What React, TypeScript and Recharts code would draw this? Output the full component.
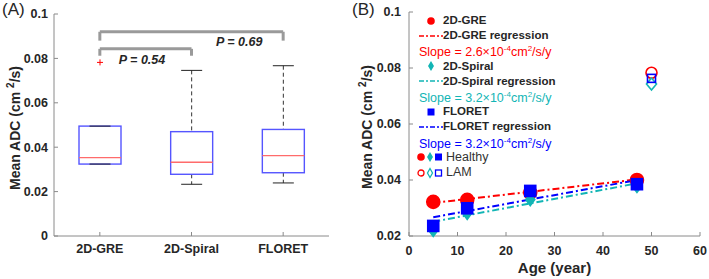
import {
  Bar,
  ComposedChart,
  Line,
  ReferenceLine,
  Scatter,
  XAxis,
  YAxis,
} from "recharts";

const FONT = '"Liberation Sans", Arial, sans-serif';
const INK = "#262626";
const AXIS = "#8a8a8a";
const RED = "#ff0000";
const TEAL = "#12b5b5";
const BLUE = "#0000ff";

// panel A: box plot per method
const methods = ["2D-GRE", "2D-Spiral", "FLORET"];
const whiskerLow = [0.0324, 0.0233, 0.0239];
const quartile1 = [0.0324, 0.0278, 0.0285];
const medians = [0.0353, 0.0332, 0.0362];
const quartile3 = [0.0495, 0.047, 0.048];
const whiskerHigh = [0.0495, 0.0746, 0.0767];
const outliers = [[0.0782], [], []];
const boxTicks = [0, 0.02, 0.04, 0.06, 0.08, 0.1];

// panel B: ADC vs age
const ages = [5, 12, 25, 47];
const greHealthy = [0.0322, 0.0329, 0.0355, 0.04];
const spiralHealthy = [0.022, 0.0281, 0.033, 0.0377];
const floretHealthy = [0.0236, 0.0299, 0.0361, 0.0385];
const lamAge = 50;
const greLam = 0.0783;
const spiralLam = 0.0743;
const floretLam = 0.0763;
const fitAges = [5, 47];
const greFit = [0.0318, 0.0402];
const spiralFit = [0.0251, 0.0388];
const floretFit = [0.0267, 0.04];
const ageTicks = [0, 10, 20, 30, 40, 50, 60];
const adcTicks = [0.02, 0.04, 0.06, 0.08, 0.1];

const boxData = methods.map((name, i) => ({
  name,
  lo: whiskerLow[i],
  q1: quartile1[i],
  med: medians[i],
  q3: quartile3[i],
  hi: whiskerHigh[i],
  out: outliers[i],
}));

const pts = (xs: number[], ys: number[]) => xs.map((age, i) => ({ age, adc: ys[i] }));

const tickStyle = { fontSize: 12.5, fontWeight: 700, fill: INK, fontFamily: FONT };

function BoxShape(props: any) {
  const { x, y, width, height, payload } = props;
  const top = Math.min(y, y + height);
  const h = Math.abs(height);
  const span = payload.hi - payload.lo;
  const toY = (v: number) => top + ((payload.hi - v) / span) * h;
  const cx = x + width / 2;
  const cap = width / 4;
  return (
    <g>
      {payload.hi > payload.q3 && (
        <line x1={cx} x2={cx} y1={toY(payload.hi)} y2={toY(payload.q3)} stroke="#333" strokeDasharray="4 3" />
      )}
      {payload.lo < payload.q1 && (
        <line x1={cx} x2={cx} y1={toY(payload.q1)} y2={toY(payload.lo)} stroke="#333" strokeDasharray="4 3" />
      )}
      <rect
        x={x}
        y={toY(payload.q3)}
        width={width}
        height={toY(payload.q1) - toY(payload.q3)}
        fill="none"
        stroke="#5555ff"
        strokeWidth={1.4}
      />
      <line x1={cx - cap} x2={cx + cap} y1={toY(payload.hi)} y2={toY(payload.hi)} stroke="#222" />
      <line x1={cx - cap} x2={cx + cap} y1={toY(payload.lo)} y2={toY(payload.lo)} stroke="#222" />
      <line x1={x} x2={x + width} y1={toY(payload.med)} y2={toY(payload.med)} stroke="#ff6b6b" strokeWidth={1.4} />
      {payload.out.map((v: number, i: number) => (
        <g key={i} stroke={RED} strokeWidth={1}>
          <line x1={cx - 3} x2={cx + 3} y1={toY(v)} y2={toY(v)} />
          <line x1={cx} x2={cx} y1={toY(v) - 3} y2={toY(v) + 3} />
        </g>
      ))}
    </g>
  );
}

const yTitle = (dx: number) => (p: any) => {
  const vb = p.viewBox ?? p;
  const cx = vb.x + dx;
  const cy = vb.y + vb.height / 2 + 3;
  return (
    <text
      transform={`translate(${cx},${cy}) rotate(-90)`}
      textAnchor="middle"
      dominantBaseline="central"
      fontSize={14}
      fontWeight={700}
      fill={INK}
      fontFamily={FONT}
    >
      Mean ADC (cm{" "}
      <tspan dy={-5} fontSize={10}>
        2
      </tspan>
      <tspan dy={5}>/s)</tspan>
    </text>
  );
};

function pLabel(text: string, frac: number, dy: number) {
  return (p: any) => {
    const vb = p.viewBox ?? p;
    return (
      <text
        x={vb.x + vb.width * frac}
        y={vb.y + dy}
        textAnchor="middle"
        fontSize={12.5}
        fontWeight={700}
        fontStyle="italic"
        fill={INK}
        fontFamily={FONT}
      >
        {text}
      </text>
    );
  };
}

const bracket = { stroke: "#9a9a9a", strokeWidth: 3 };

const Circle = (color: string, r: number, filled: boolean) => (p: any) => (
  <circle cx={p.cx} cy={p.cy} r={r} fill={filled ? color : "none"} stroke={color} strokeWidth={1.6} />
);
const Diamond = (color: string, w: number, hgt: number, filled: boolean) => (p: any) => (
  <polygon
    points={`${p.cx},${p.cy - hgt} ${p.cx + w},${p.cy} ${p.cx},${p.cy + hgt} ${p.cx - w},${p.cy}`}
    fill={filled ? color : "none"}
    stroke={color}
    strokeWidth={1.6}
  />
);
const Square = (color: string, s: number, filled: boolean) => (p: any) => (
  <rect x={p.cx - s / 2} y={p.cy - s / 2} width={s} height={s} fill={filled ? color : "none"} stroke={color} strokeWidth={1.6} />
);

function Slope({ color, value }: { color: string; value: string }) {
  return (
    <span style={{ color, fontSize: 12.5 }}>
      Slope = {value}×10
      <sup style={{ fontSize: 8 }}>-4</sup>cm<sup style={{ fontSize: 8 }}>2</sup>/s/y
    </span>
  );
}

function Icon({ children, w = 24 }: { children: any; w?: number }) {
  return (
    <svg width={w} height={14} style={{ flex: "none" }}>
      {children}
    </svg>
  );
}

const dashDot = "7 3 2 3";

function LegendB() {
  const rows: any[] = [
    <>
      <Icon><circle cx={12} cy={7} r={3.8} fill={RED} /></Icon>
      <b>2D-GRE</b>
    </>,
    <>
      <Icon><line x1={0} x2={24} y1={7} y2={7} stroke={RED} strokeWidth={1.6} strokeDasharray="5 2 2 2" /></Icon>
      <b>2D-GRE regression</b>
    </>,
    <Slope color={RED} value="2.6" />,
    <>
      <Icon><polygon points="12,2 15,7 12,12 9,7" fill={TEAL} /></Icon>
      <b>2D-Spiral</b>
    </>,
    <>
      <Icon><line x1={0} x2={24} y1={7} y2={7} stroke={TEAL} strokeWidth={1.6} strokeDasharray="5 2 2 2" /></Icon>
      <b>2D-Spiral regression</b>
    </>,
    <Slope color={TEAL} value="3.2" />,
    <>
      <Icon><rect x={8.5} y={3.5} width={7} height={7} fill={BLUE} /></Icon>
      <b>FLORET</b>
    </>,
    <>
      <Icon><line x1={0} x2={24} y1={7} y2={7} stroke={BLUE} strokeWidth={1.6} strokeDasharray="5 2 2 2" /></Icon>
      <b>FLORET regression</b>
    </>,
    <Slope color={BLUE} value="3.2" />,
    <>
      <Icon w={30}>
        <circle cx={5} cy={7} r={3.8} fill={RED} />
        <polygon points="14,2 17,7 14,12 11,7" fill={TEAL} />
        <rect x={19} y={3.5} width={7} height={7} fill={BLUE} />
      </Icon>
      <span style={{ fontSize: 12.5, color: "#333" }}>Healthy</span>
    </>,
    <>
      <Icon w={30}>
        <circle cx={5} cy={7} r={3} fill="none" stroke={RED} strokeWidth={1.3} />
        <polygon points="14,2.5 16.5,7 14,11.5 11.5,7" fill="none" stroke={TEAL} strokeWidth={1.3} />
        <rect x={19.5} y={4} width={6} height={6} fill="none" stroke={BLUE} strokeWidth={1.3} />
      </Icon>
      <span style={{ fontSize: 12.5, color: "#333" }}>LAM</span>
    </>,
  ];
  return (
    <div style={{ position: "absolute", left: 419, top: 13, fontFamily: FONT, fontSize: 11.5, color: INK }}>
      {rows.map((r, i) => (
        <div
          key={i}
          style={{
            position: "absolute",
            top: i * 15.2,
            height: 15,
            left: i === 9 || i === 10 ? -3 : 0,
            display: "flex",
            alignItems: "center",
            whiteSpace: "nowrap",
            lineHeight: "15px",
          }}
        >
          {r}
        </div>
      ))}
    </div>
  );
}

export default function App() {
  return (
    <div style={{ position: "absolute", left: 0, top: 0, width: 709, height: 279, background: "#fff", fontFamily: FONT, overflow: "hidden" }}>
      <div style={{ position: "absolute", left: 2, top: 0, fontSize: 17, lineHeight: "20px", color: INK }}>(A)</div>
      <div style={{ position: "absolute", left: 352, top: 0, fontSize: 17, lineHeight: "20px", color: INK }}>(B)</div>

      <div style={{ position: "absolute", left: 0, top: 0 }}>
        <ComposedChart width={350} height={279} data={boxData} margin={{ top: 14, right: 21, bottom: 0, left: 14 }}>
          <XAxis
            dataKey="name"
            height={43}
            tick={tickStyle}
            tickSize={-4}
            tickMargin={12}
            stroke={AXIS}
            interval={0}
          />
          <XAxis xAxisId="top" dataKey="name" orientation="top" height={0} tick={false} tickSize={-4} stroke={AXIS} />
          <YAxis
            domain={[0, 0.1]}
            ticks={boxTicks}
            width={40}
            tick={tickStyle}
            tickSize={-4}
            tickMargin={10}
            stroke={AXIS}
            label={yTitle(1)}
          />
          <YAxis yAxisId="right" orientation="right" domain={[0, 0.1]} ticks={boxTicks} width={0} tick={false} tickSize={-4} stroke={AXIS} />
          <Bar dataKey={(d: any) => [d.lo, d.hi]} barSize={42} shape={BoxShape} isAnimationActive={false} />
          <ReferenceLine segment={[{ x: "2D-GRE", y: 0.092 }, { x: "FLORET", y: 0.092 }]} {...bracket} label={pLabel("P = 0.69", 0.76, 14)} />
          <ReferenceLine segment={[{ x: "2D-GRE", y: 0.092 }, { x: "2D-GRE", y: 0.088 }]} {...bracket} />
          <ReferenceLine segment={[{ x: "FLORET", y: 0.092 }, { x: "FLORET", y: 0.088 }]} {...bracket} />
          <ReferenceLine segment={[{ x: "2D-GRE", y: 0.0843 }, { x: "2D-Spiral", y: 0.0843 }]} {...bracket} label={pLabel("P = 0.54", 0.46, 15)} />
          <ReferenceLine segment={[{ x: "2D-GRE", y: 0.0843 }, { x: "2D-GRE", y: 0.0812 }]} {...bracket} />
          <ReferenceLine segment={[{ x: "2D-Spiral", y: 0.0843 }, { x: "2D-Spiral", y: 0.0812 }]} {...bracket} />
        </ComposedChart>
      </div>

      <div style={{ position: "absolute", left: 350, top: 0 }}>
        <ComposedChart width={359} height={279} margin={{ top: 12, right: 9, bottom: 0, left: 19 }}>
          <XAxis
            type="number"
            dataKey="age"
            domain={[0, 60]}
            ticks={ageTicks}
            height={43}
            tick={tickStyle}
            tickSize={-4}
            tickMargin={14}
            stroke={AXIS}
            label={(p: any) => {
              const vb = p.viewBox ?? p;
              return (
                <text x={vb.x + vb.width / 2} y={273} textAnchor="middle" fontSize={15} fontWeight={700} fill={INK} fontFamily={FONT}>
                  Age (year)
                </text>
              );
            }}
          />
          <YAxis
            type="number"
            domain={[0.02, 0.1]}
            ticks={adcTicks}
            width={40}
            tick={tickStyle}
            tickSize={-4}
            tickMargin={12}
            stroke={AXIS}
            label={yTitle(-2)}
          />
          <Scatter data={pts(ages, greHealthy)} dataKey="adc" shape={Circle(RED, 6.5, true)} isAnimationActive={false} />
          <Line data={pts(fitAges, greFit)} dataKey="adc" stroke={RED} strokeWidth={2} strokeDasharray={dashDot} dot={false} isAnimationActive={false} />
          <Scatter data={pts(ages, spiralHealthy)} dataKey="adc" shape={Diamond(TEAL, 4.5, 6, true)} isAnimationActive={false} />
          <Line data={pts(fitAges, spiralFit)} dataKey="adc" stroke={TEAL} strokeWidth={2} strokeDasharray={dashDot} dot={false} isAnimationActive={false} />
          <Scatter data={pts(ages, floretHealthy)} dataKey="adc" shape={Square(BLUE, 11, true)} isAnimationActive={false} />
          <Line data={pts(fitAges, floretFit)} dataKey="adc" stroke={BLUE} strokeWidth={2} strokeDasharray={dashDot} dot={false} isAnimationActive={false} />
          <Scatter data={[{ age: lamAge, adc: greLam }]} dataKey="adc" shape={Circle(RED, 5.5, false)} isAnimationActive={false} />
          <Scatter data={[{ age: lamAge, adc: spiralLam }]} dataKey="adc" shape={Diamond(TEAL, 5, 6, false)} isAnimationActive={false} />
          <Scatter data={[{ age: lamAge, adc: floretLam }]} dataKey="adc" shape={Square(BLUE, 8, false)} isAnimationActive={false} />
        </ComposedChart>
      </div>

      <LegendB />
    </div>
  );
}
